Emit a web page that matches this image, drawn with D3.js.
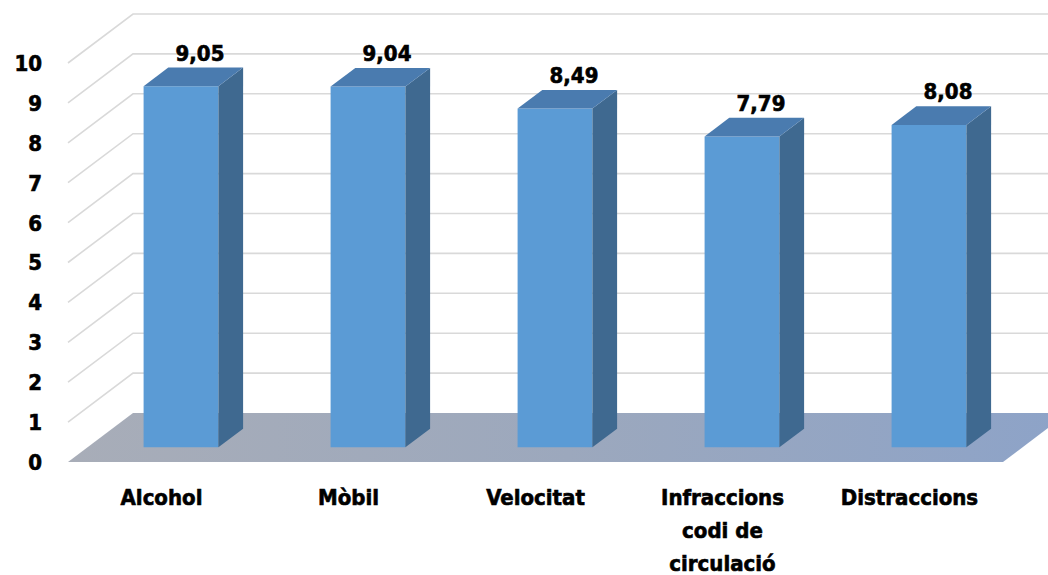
<!DOCTYPE html>
<html>
<head>
<meta charset="utf-8">
<script src="https://cdn.jsdelivr.net/npm/d3@7"></script>
<style>
  html, body { margin: 0; padding: 0; background: #fff; }
  svg { display: block; }
  text { font-family: "DejaVu Sans Condensed", "DejaVu Sans", sans-serif; font-weight: bold; fill: #000; stroke: #000; stroke-width: 0.6px; }
</style>
</head>
<body>
<svg id="chart" width="1048" height="575"></svg>
<script>
// ---- data ----
const categories = ["Alcohol", "Mòbil", "Velocitat", "Infraccions codi de circulació", "Distraccions"];
const categoryLines = [["Alcohol"], ["Mòbil"], ["Velocitat"], ["Infraccions", "codi de", "circulació"], ["Distraccions"]];
const values = [9.05, 9.04, 8.49, 7.79, 8.08];
const valueLabels = ["9,05", "9,04", "8,49", "7,79", "8,08"];
const yTicks = [0, 1, 2, 3, 4, 5, 6, 7, 8, 9, 10];

// ---- layout ----
const svg = d3.select("#chart");
const depthX = 65, depthY = -49;      // full floor depth offset
const t0 = 0.3, t1 = 0.68;            // bar depth extent
const FS = 22;

const x = d3.scaleBand().domain(categories).range([68, 1003]).paddingInner(0.6).paddingOuter(0.3);
const y = d3.scaleLinear().domain([0, 10]).range([462, 63]);

const P = (xf, v, t) => [xf + t * depthX, y(v) + t * depthY];
const poly = pts => "M" + pts.map(p => p.join(",")).join("L") + "Z";

const defs = svg.append("defs");
const fg = defs.append("linearGradient").attr("id", "floorGrad").attr("x1", "0").attr("x2", "1").attr("y1", "0").attr("y2", "0");
fg.append("stop").attr("offset", "0").attr("stop-color", "#A8ADB8");
fg.append("stop").attr("offset", "0.5").attr("stop-color", "#9CA8BD");
fg.append("stop").attr("offset", "1").attr("stop-color", "#8DA3C8");

// gridlines: side wall diagonal + back wall horizontal
const x0 = x.range()[0], x1 = x.range()[1];
const grid = svg.append("g");
yTicks.filter(v => v > 0).forEach(v => {
  const a = P(x0, v, 0), b = P(x0, v, 1), c = P(x1, v, 1);
  grid.append("path")
    .attr("d", "M" + a.join(",") + "L" + b.join(",") + "L" + c.join(","))
    .attr("fill", "none").attr("stroke", "#D9D9D9").attr("stroke-width", 1.6);
});

// floor
svg.append("path")
  .attr("d", poly([P(x0, 0, 0), P(x1, 0, 0), P(x1, 0, 1), P(x0, 0, 1)]))
  .attr("fill", "url(#floorGrad)");

// bars
const bars = svg.append("g");
categories.forEach((c, i) => {
  const v = values[i];
  const xl = x(c), xr = x(c) + x.bandwidth();
  const g = bars.append("g");
  g.append("path").attr("d", poly([P(xl, 0, t0), P(xr, 0, t0), P(xr, v, t0), P(xl, v, t0)])).attr("fill", "#5B9BD5");
  g.append("path").attr("d", poly([P(xr, 0, t0), P(xr, 0, t1), P(xr, v, t1), P(xr, v, t0)])).attr("fill", "#3F6990");
  g.append("path").attr("d", poly([P(xl, v, t0), P(xr, v, t0), P(xr, v, t1), P(xl, v, t1)])).attr("fill", "#4A7BAF");
  const tb = P(xl + x.bandwidth() / 2, v, t1);
  g.append("text").attr("x", x(c) + x.bandwidth() / 2 + 19 + t0 * depthX).attr("y", tb[1] - 7)
    .attr("text-anchor", "middle").attr("font-size", FS).text(valueLabels[i]);
});

// y axis labels
const yAxis = svg.append("g");
yTicks.forEach(v => {
  yAxis.append("text").attr("x", 42).attr("y", y(v)).attr("dy", "0.36em")
    .attr("text-anchor", "end").attr("font-size", FS).text(v);
});

// category labels
const xAxis = svg.append("g");
categories.forEach((c, i) => {
  const cx = x(c) + x.bandwidth() / 2;
  const t = xAxis.append("text").attr("text-anchor", "middle").attr("font-size", FS);
  categoryLines[i].forEach((ln, j) => {
    t.append("tspan").attr("x", cx).attr("y", 505 + j * 33).text(ln);
  });
});
</script>
</body>
</html>
